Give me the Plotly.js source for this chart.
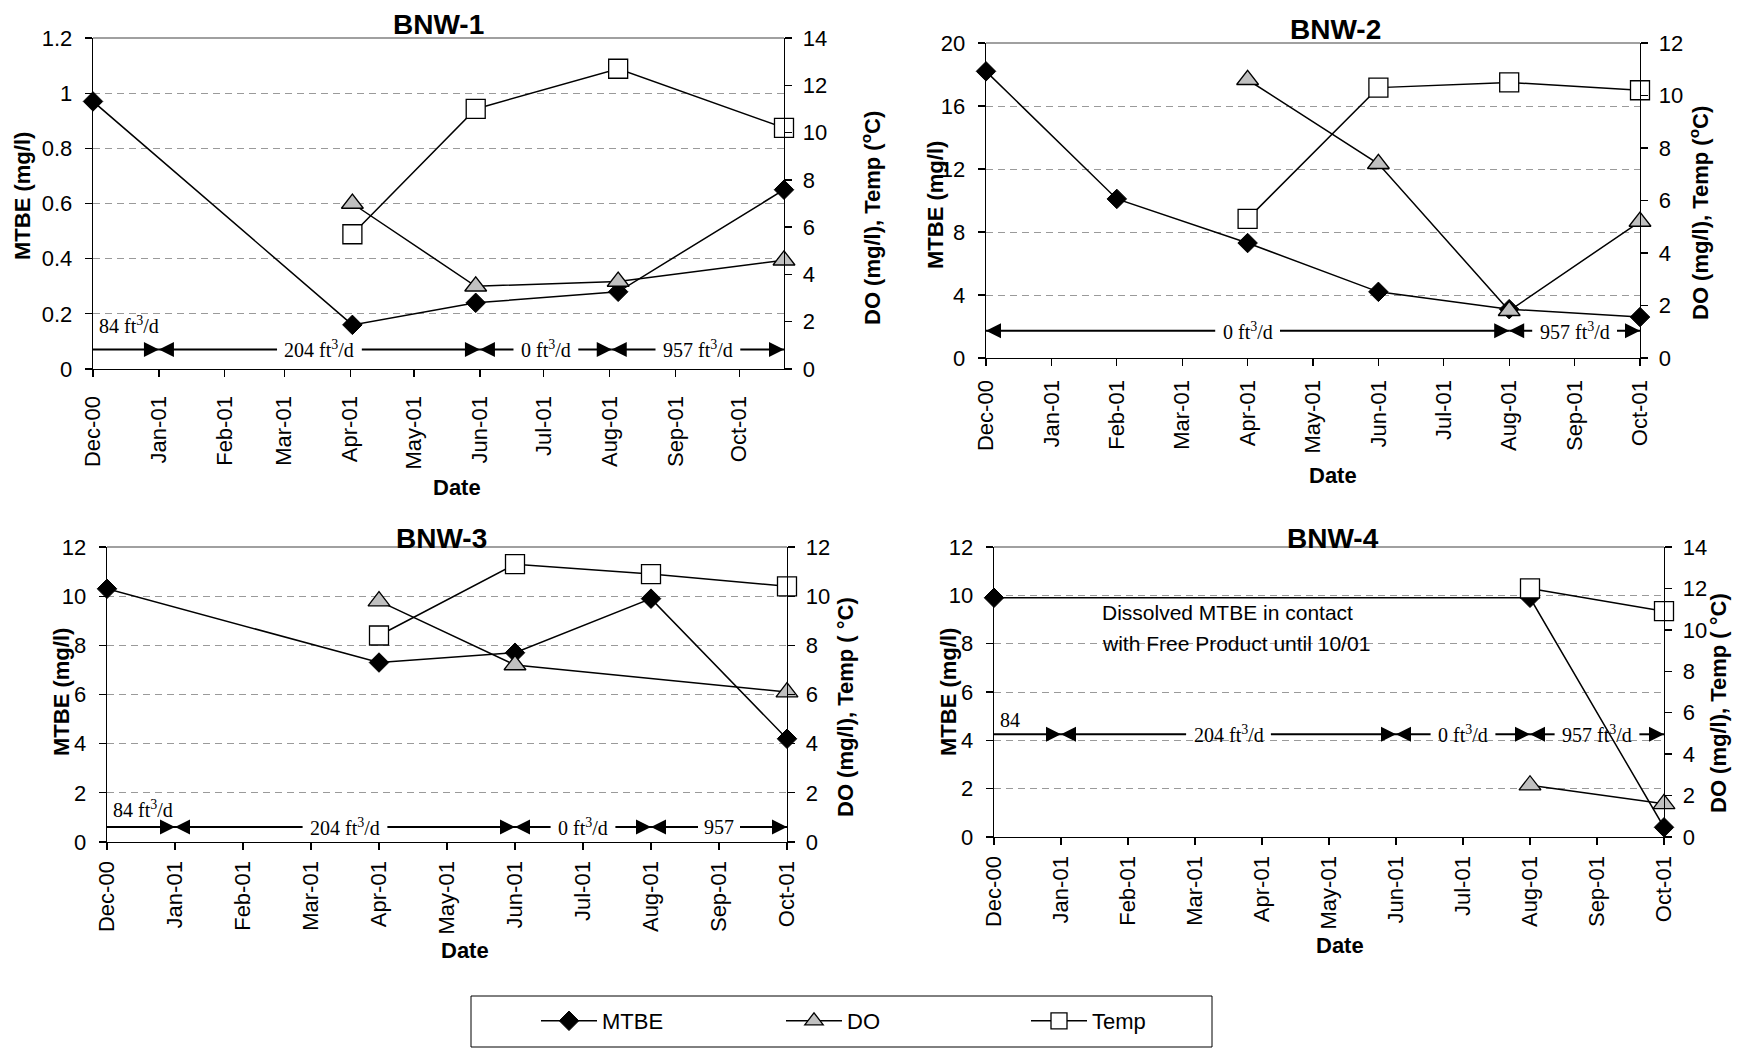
<!DOCTYPE html>
<html>
<head>
<meta charset="utf-8">
<script src="https://cdn.plot.ly/plotly-3.0.1.min.js"></script>
<style>
html,body{margin:0;padding:0;background:#fff;}
#chart{width:1737px;height:1048px;}
</style>
</head>
<body>
<div id="chart"></div>
<script>
// ================= DATA =================
const months = ["Dec-00","Jan-01","Feb-01","Mar-01","Apr-01","May-01","Jun-01","Jul-01","Aug-01","Sep-01","Oct-01"];
const seriesNames = ["MTBE","DO","Temp"];

// BNW-1 (calendar-date axis)
const bnw1Dates = ["2000-12-01","2001-04-02","2001-05-30","2001-08-05","2001-10-22"];
const bnw1MTBE  = [0.97, 0.16, 0.24, 0.28, 0.65];
const bnw1DO    = [null, 7.0, 3.5, 3.7, 4.6];
const bnw1Temp  = [null, 5.7, 11.0, 12.7, 10.2];
const bnw1FlowBounds = ["2000-12-01","2001-01-01","2001-06-01","2001-08-02","2001-10-22"];
const bnw1FlowLabels = ["84 ft<sup>3</sup>/d","204 ft<sup>3</sup>/d","0 ft<sup>3</sup>/d","957 ft<sup>3</sup>/d"];

// BNW-2 (monthly axis)
const bnw2Months = ["Dec-00","Feb-01","Apr-01","Jun-01","Aug-01","Oct-01"];
const bnw2MTBE   = [18.2, 10.1, 7.3, 4.2, 3.1, 2.6];
const bnw2DO     = [null, null, 10.6, 7.4, 1.8, 5.2];
const bnw2Temp   = [null, null, 5.3, 10.3, 10.5, 10.2];
const bnw2FlowBounds = ["Dec-00","Aug-01","Oct-01"];
const bnw2FlowLabels = ["0 ft<sup>3</sup>/d","957 ft<sup>3</sup>/d"];

// BNW-3 (monthly axis)
const bnw3Months = ["Dec-00","Apr-01","Jun-01","Aug-01","Oct-01"];
const bnw3MTBE   = [10.3, 7.3, 7.7, 9.9, 4.2];
const bnw3DO     = [null, 9.8, 7.2, null, 6.1];
const bnw3Temp   = [null, 8.4, 11.3, 10.9, 10.4];
const bnw3FlowBounds = ["Dec-00","Jan-01","Jun-01","Aug-01","Oct-01"];
const bnw3FlowLabels = ["84 ft<sup>3</sup>/d","204 ft<sup>3</sup>/d","0 ft<sup>3</sup>/d","957"];

// BNW-4 (monthly axis)
const bnw4Months = ["Dec-00","Aug-01","Oct-01"];
const bnw4MTBE   = [9.9, 9.9, 0.4];
const bnw4DO     = [null, 2.5, 1.6];
const bnw4Temp   = [null, 12.0, 10.9];
const bnw4FlowBounds = ["Dec-00","Jan-01","Jun-01","Aug-01","Oct-01"];
const bnw4FlowLabels = ["84","204 ft<sup>3</sup>/d","0 ft<sup>3</sup>/d","957 ft<sup>3</sup>/d"];
const bnw4NoteLines = ["Dissolved MTBE in contact","with Free Product until 10/01"];

// ================= LAYOUT / STYLE =================
const W = 1737, H = 1048;
const FONT = "Liberation Sans, Arial, sans-serif";
const SERIF = "Liberation Serif, Times New Roman, serif";
const BLACK = "#000";

const panels = [
  {title:"BNW-1", box:[93,784,38,369], kind:"date", xRange:["2000-12-01","2001-10-22"],
   x:bnw1Dates, mtbe:bnw1MTBE, dO:bnw1DO, temp:bnw1Temp, left:[1.2,0.2], right:[14,2],
   flowBounds:bnw1FlowBounds, flowLabels:bnw1FlowLabels, flowY:0.071, firstAbove:true, firstLabelY:0.16,
   rightTitle:"DO (mg/l), Temp (<sup>o</sup>C)", titleXY:[438,24], dateXY:[457,487],
   leftTitleXY:[22,196], rightTitleXY:[871,218], xStandoff:10},
  {title:"BNW-2", box:[986,1640,43,358], kind:"month",
   x:bnw2Months, mtbe:bnw2MTBE, dO:bnw2DO, temp:bnw2Temp, left:[20,4], right:[12,2],
   flowBounds:bnw2FlowBounds, flowLabels:bnw2FlowLabels, flowY:1.73, firstAbove:false,
   rightTitle:"DO (mg/l), Temp (<sup>o</sup>C)", titleXY:[1335,29], dateXY:[1333,476],
   leftTitleXY:[936,205], rightTitleXY:[1699,213], xStandoff:5},
  {title:"BNW-3", box:[107,787,547,842], kind:"month",
   x:bnw3Months, mtbe:bnw3MTBE, dO:bnw3DO, temp:bnw3Temp, left:[12,2], right:[12,2],
   flowBounds:bnw3FlowBounds, flowLabels:bnw3FlowLabels, flowY:0.61, firstAbove:true, firstLabelY:1.34,
   rightTitle:"DO (mg/l), Temp ( °C)", titleXY:[441,538], dateXY:[465,950],
   leftTitleXY:[61,692], rightTitleXY:[845,707], xStandoff:2},
  {title:"BNW-4", box:[994,1664,547,837], kind:"month",
   x:bnw4Months, mtbe:bnw4MTBE, dO:bnw4DO, temp:bnw4Temp, left:[12,2], right:[14,2],
   flowBounds:bnw4FlowBounds, flowLabels:bnw4FlowLabels, flowY:4.25, firstAbove:true, firstLabelY:4.84,
   rightTitle:"DO (mg/l), Temp ( °C)", titleXY:[1333,538], dateXY:[1340,945],
   leftTitleXY:[948,692], rightTitleXY:[1718,703], xStandoff:2,
   noteLines:bnw4NoteLines, noteX:1.58, noteYs:[9.27, 8.0]}
];

const markerStyles = {
  MTBE: {symbol:"diamond", size:15, color:BLACK, line:{color:BLACK, width:1}},
  DO:   {symbol:"triangle-up", size:19, color:"#c0c0c0", line:{color:BLACK, width:1.3}},
  Temp: {symbol:"square", size:19, color:"#ffffff", line:{color:BLACK, width:1.3}}
};

const fx = px => px / W;
const fy = py => 1 - py / H;

const canvas = document.createElement("canvas");
const ctx = canvas.getContext("2d");
function textWidth(html, size, family) {
  ctx.font = size + "px " + family;
  return ctx.measureText(html.replace(/<[^>]+>/g, "")).width;
}
const fmtDate = ms => new Date(ms).toISOString().slice(0,19).replace("T"," ");

const data = [];
const layout = {
  width: W, height: H,
  margin: {l:0, r:0, t:0, b:0},
  paper_bgcolor: "#fff", plot_bgcolor: "rgba(0,0,0,0)",
  font: {family: FONT, color: BLACK, size: 22},
  showlegend: true,
  legend: {orientation:"h", x: fx(536), xanchor:"left", y: fy(1021), yanchor:"middle",
           font:{family:FONT, size:22, color:BLACK}, bgcolor:"rgba(0,0,0,0)", borderwidth:0,
           itemwidth:56, entrywidth:174, entrywidthmode:"pixels", traceorder:"normal"},
  annotations: [],
  shapes: []
};

const tickFont = {family: FONT, size: 22, color: BLACK};
const axisTitleFont = {family: FONT, size: 22, color: BLACK};
const serifFont = {family: SERIF, size: 20, color: BLACK};

panels.forEach((p, i) => {
  const sfx = i === 0 ? "" : String(i + 1);
  const xn = "x" + sfx;
  const yl = 2 * i + 1, yr = 2 * i + 2, yt = 9 + i;
  const yln = yl === 1 ? "y" : "y" + yl;
  const yrn = "y" + yr;
  const [L, R, T, B] = p.box;
  const isDate = p.kind === "date";

  const toNum = v => isDate ? Date.parse(v) : months.indexOf(v);
  const fromNum = n => (n === null ? null : (isDate ? fmtDate(n) : n));
  const xs = isDate ? p.x : p.x.map(m => months.indexOf(m));
  const xmin = isDate ? Date.parse(p.xRange[0]) : 0;
  const xmax = isDate ? Date.parse(p.xRange[1]) : months.length - 1;
  const pxPerUnit = (R - L) / (xmax - xmin);

  // x axis
  const xa = {
    domain: [fx(L), fx(R)], anchor: yln,
    showline: true, linecolor: BLACK, linewidth: 1.3,
    ticks: "outside", ticklen: 7, tickwidth: 1.3, tickcolor: BLACK,
    tickangle: -90, tickfont: tickFont, ticklabelstandoff: p.xStandoff,
    showgrid: false, zeroline: false, fixedrange: true
  };
  if (isDate) {
    Object.assign(xa, {type:"date", range:p.xRange, tick0:"2000-12-01", dtick:"M1", tickformat:"%b-%y"});
  } else {
    Object.assign(xa, {type:"linear", range:[0, months.length - 1], tickmode:"array",
      tickvals: months.map((m, k) => k), ticktext: months});
  }
  layout["xaxis" + sfx] = xa;

  layout["yaxis" + (yl === 1 ? "" : yl)] = {
    domain: [fy(B), fy(T)], anchor: xn, range: [0, p.left[0]], tick0: 0, dtick: p.left[1],
    showline: true, linecolor: BLACK, linewidth: 1.3,
    ticks: "outside", ticklen: 7, tickwidth: 1.3, tickcolor: BLACK,
    tickfont: tickFont, ticklabelstandoff: 8,
    showgrid: true, gridcolor: "#9a9a9a", gridwidth: 1, griddash: "7px,5px",
    zeroline: false, fixedrange: true
  };
  layout["yaxis" + yr] = {
    overlaying: yln, side: "right", anchor: xn, range: [0, p.right[0]], tick0: 0, dtick: p.right[1],
    showline: true, linecolor: BLACK, linewidth: 1.3,
    ticks: "outside", ticklen: 7, tickwidth: 1.3, tickcolor: BLACK,
    tickfont: tickFont, ticklabelstandoff: 6,
    showgrid: false, zeroline: false, fixedrange: true
  };
  // inner half of the crossing tick marks on the secondary axis
  layout["yaxis" + yt] = {
    overlaying: yln, side: "right", anchor: xn, range: [0, p.right[0]], tick0: 0, dtick: p.right[1],
    showline: false, ticks: "inside", ticklen: 7, tickwidth: 1.3, tickcolor: BLACK,
    showticklabels: false, showgrid: false, zeroline: false, fixedrange: true
  };

  // data traces
  [["MTBE", p.mtbe, yln], ["DO", p.dO, yrn], ["Temp", p.temp, yrn]].forEach(([name, ys, ya]) => {
    data.push({
      type: "scatter", mode: "lines+markers", name: name, legendgroup: name,
      x: xs, y: ys, xaxis: xn, yaxis: ya, connectgaps: true, cliponaxis: false,
      showlegend: i === 0,
      line: {color: BLACK, width: 1.5},
      marker: markerStyles[name],
      hoverinfo: "skip"
    });
  });

  // flow-rate periods: shafts (lines) + heads (arrow markers, tip on the boundary) + labels
  const A = layout.annotations;
  const fb = p.flowBounds.map(toNum);
  const shaftX = [], headX = [], headSym = [];
  p.flowLabels.forEach((lab, k) => {
    const a = fb[k], b = fb[k + 1];
    if (k === 0 && p.firstAbove) {
      shaftX.push(a, b, null);
      headX.push(b); headSym.push("arrow-right");
      A.push({xref:xn, yref:yln, x:fromNum(a), y:p.firstLabelY, xanchor:"left", yanchor:"middle", xshift:4,
        text:lab, showarrow:false, font:serifFont});
    } else {
      const mid = (a + b) / 2;
      const half = (textWidth(lab, 20, "Liberation Serif") / 2 + 6) / pxPerUnit;
      shaftX.push(a, mid - half, null, mid + half, b, null);
      headX.push(a, b); headSym.push("arrow-left", "arrow-right");
      A.push({xref:xn, yref:yln, x:fromNum(mid), y:p.flowY, xanchor:"center", yanchor:"middle",
        text:lab, showarrow:false, font:serifFont});
    }
  });
  data.push({type:"scatter", mode:"lines", x: shaftX.map(fromNum), y: shaftX.map(v => v === null ? null : p.flowY),
    xaxis:xn, yaxis:yln, connectgaps:false, showlegend:false, hoverinfo:"skip", cliponaxis:false,
    line:{color:BLACK, width:2}});
  data.push({type:"scatter", mode:"markers", x: headX.map(fromNum), y: headX.map(() => p.flowY),
    xaxis:xn, yaxis:yln, showlegend:false, hoverinfo:"skip", cliponaxis:false,
    marker:{symbol:headSym, size:15, color:BLACK, line:{width:0}}});

  // top frame line
  layout.shapes.push({type:"line", xref:"paper", yref:"paper", x0:fx(L), x1:fx(R), y0:fy(T), y1:fy(T),
    line:{color:"#808080", width:1.5}});

  // titles
  A.push({xref:"paper", yref:"paper", x:fx(p.titleXY[0]), y:fy(p.titleXY[1]), text:"<b>"+p.title+"</b>",
    showarrow:false, xanchor:"center", yanchor:"middle", font:{family:FONT, size:28, color:BLACK}});
  A.push({xref:"paper", yref:"paper", x:fx(p.dateXY[0]), y:fy(p.dateXY[1]), text:"<b>Date</b>",
    showarrow:false, xanchor:"center", yanchor:"middle", font:axisTitleFont});
  A.push({xref:"paper", yref:"paper", x:fx(p.leftTitleXY[0]), y:fy(p.leftTitleXY[1]), text:"<b>MTBE (mg/l)</b>",
    showarrow:false, textangle:-90, xanchor:"center", yanchor:"middle", font:axisTitleFont});
  A.push({xref:"paper", yref:"paper", x:fx(p.rightTitleXY[0]), y:fy(p.rightTitleXY[1]), text:"<b>"+p.rightTitle+"</b>",
    showarrow:false, textangle:-90, xanchor:"center", yanchor:"middle", font:axisTitleFont});

  if (p.noteLines) {
    p.noteLines.forEach((line, k) => {
      A.push({xref:xn, yref:yln, x:p.noteX, y:p.noteYs[k], xanchor:"left", yanchor:"middle", align:"left",
        text:line, showarrow:false, font:{family:FONT, size:21, color:BLACK}});
    });
  }
});

// legend frame
layout.shapes.push({type:"rect", xref:"paper", yref:"paper", x0:fx(471), x1:fx(1212), y0:fy(1047), y1:fy(996),
  line:{color:BLACK, width:1}, fillcolor:"rgba(0,0,0,0)"});

Plotly.newPlot("chart", data, layout, {displayModeBar:false, staticPlot:true});
</script>
</body>
</html>
